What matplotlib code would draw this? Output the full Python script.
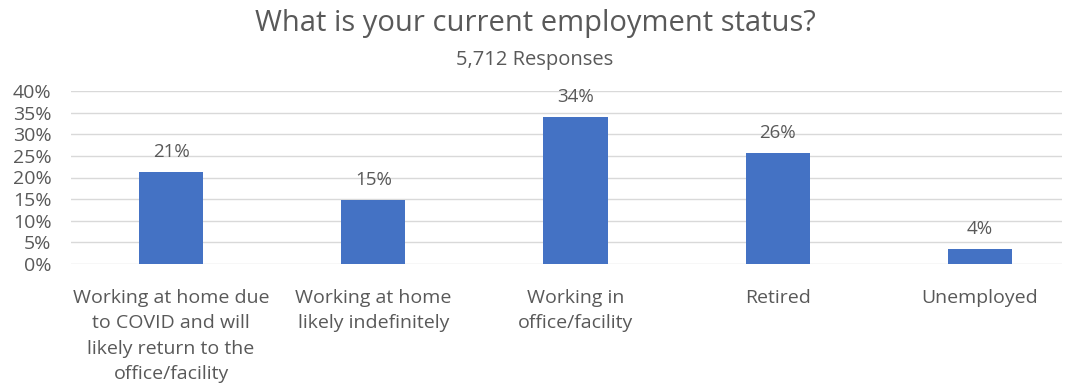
import matplotlib
matplotlib.use("Agg")
import matplotlib.pyplot as plt
from matplotlib.ticker import FuncFormatter, MultipleLocator

categories = [
    "Working at home due\nto COVID and will\nlikely return to the\noffice/facility",
    "Working at home\nlikely indefinitely",
    "Working in\noffice/facility",
    "Retired",
    "Unemployed",
]
shares = [21.3, 14.8, 34.0, 25.7, 3.5]

TEXT = "#595959"
BAR = "#4472C4"

plt.rcParams["font.family"] = ["Open Sans", "DejaVu Sans"]

fig = plt.figure(figsize=(10.7, 3.88), dpi=100)
ax = fig.add_axes([71 / 1070, 1 - 264 / 388, (1062 - 71) / 1070, (264 - 91) / 388])

x = range(len(categories))
ax.bar(x, shares, width=0.317, color=BAR, zorder=3)
for xi, v in zip(x, shares):
    ax.text(xi, v + 2.5, f"{round(v):.0f}%", ha="center", va="bottom",
            fontsize=13.5, color=TEXT)

ax.set_xlim(-0.495, 4.406)
ax.set_ylim(0, 40)
ax.yaxis.set_major_locator(MultipleLocator(5))
ax.yaxis.set_major_formatter(FuncFormatter(lambda v, _: f"{v:.0f}%"))
ax.grid(axis="y", color="#d9d9d9", linewidth=1, zorder=0)
ax.set_xticks(list(x))
ax.set_xticklabels(categories, fontsize=14, color=TEXT, linespacing=1.52)
ax.tick_params(axis="x", length=0, pad=18)
ax.tick_params(axis="y", length=0, pad=14, labelsize=14, labelcolor=TEXT)
for s in ax.spines.values():
    s.set_visible(False)

fig.text(0.5, 1 - 24 / 388, "What is your current employment status?", ha="center",
         va="center", fontsize=21, color=TEXT)
fig.text(0.5, 1 - 60 / 388, "5,712 Responses", ha="center", va="center",
         fontsize=14.5, color=TEXT)

fig.savefig("out.png", dpi=100, facecolor="white")
